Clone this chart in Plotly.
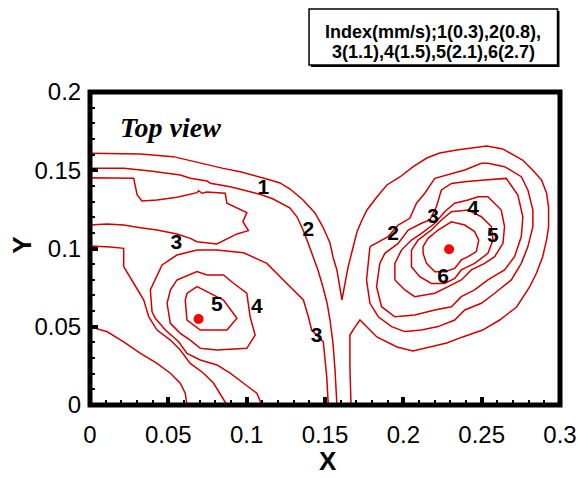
import plotly.graph_objects as go

# ---- contour lines (data units: x, y in the axis scale) ----
# contour "1": from left wall, over the top, down to a cusp, around the right peak, down to the floor
line1_x = [0.0, 0.0322, 0.0532, 0.0704, 0.0850, 0.0959, 0.1067, 0.1150, 0.1213, 0.1277, 0.1360, 0.1436,
           0.1487, 0.1532, 0.1551, 0.1576, 0.1608, 0.1627, 0.1646, 0.1678, 0.1704, 0.1736, 0.1768, 0.1831,
           0.1895, 0.1978, 0.2061, 0.2150, 0.2232, 0.2341, 0.2424, 0.2532, 0.2634, 0.2761, 0.2825, 0.2882,
           0.2914, 0.2927, 0.2927, 0.2914, 0.2889, 0.2850, 0.2806, 0.2723, 0.2615, 0.2506, 0.2379, 0.2277,
           0.2169, 0.2061, 0.1959, 0.1831, 0.1768, 0.1723, 0.1691, 0.1659, 0.1659, 0.1666]
line1_y = [0.1608, 0.1604, 0.1587, 0.1544, 0.1512, 0.1491, 0.1463, 0.1438, 0.1419, 0.1380, 0.1310, 0.1227,
           0.1137, 0.1035, 0.0946, 0.0863, 0.0671, 0.0767, 0.0875, 0.1003, 0.1105, 0.1182, 0.1246, 0.1329,
           0.1406, 0.1457, 0.1521, 0.1578, 0.1610, 0.1629, 0.1642, 0.1655, 0.1636, 0.1565, 0.1502, 0.1438,
           0.1355, 0.1265, 0.1137, 0.1054, 0.0946, 0.0843, 0.0754, 0.0626, 0.0543, 0.0479, 0.0435, 0.0396,
           0.0371, 0.0345, 0.0371, 0.0435, 0.0498, 0.0543, 0.0498, 0.0447, 0.0243, 0.0]

# contour "2" (left part): left wall to the floor
line2_x = [0.0, 0.0215, 0.0385, 0.0576, 0.0640, 0.0748, 0.0768, 0.0895, 0.1022, 0.1099, 0.1169, 0.1277,
           0.1322, 0.1360, 0.1392, 0.1424, 0.1455, 0.1487, 0.1513, 0.1532, 0.1551, 0.1564, 0.1576]
line2_y = [0.1512, 0.1512, 0.1495, 0.1470, 0.1449, 0.1431, 0.1417, 0.1395, 0.1363, 0.1342, 0.1316, 0.1259,
           0.1201, 0.1118, 0.1035, 0.0946, 0.0863, 0.0754, 0.0652, 0.0543, 0.0396, 0.0224, 0.0]

# lobe attached to the left wall
lobe_x = [0.0, 0.0279, 0.0290, 0.0301, 0.0332, 0.0428, 0.0555, 0.0683, 0.0693, 0.0715, 0.0746, 0.0863,
          0.0874, 0.0938, 0.1001, 0.0976, 0.1011, 0.0938, 0.0810, 0.0683, 0.0640, 0.0555, 0.0428, 0.0322,
          0.0215, 0.0110, 0.0]
lobe_y = [0.1452, 0.1449, 0.1395, 0.1342, 0.1304, 0.1310, 0.1327, 0.1357, 0.1369, 0.1353, 0.1361, 0.1353,
          0.1289, 0.1257, 0.1229, 0.1171, 0.1114, 0.1093, 0.1029, 0.1043, 0.1065, 0.1093, 0.1118, 0.1133,
          0.1150, 0.1157, 0.1150]

# two lines from the left wall down to the floor
wall_a_x = [0.0, 0.0131, 0.0215, 0.0215, 0.0279, 0.0343, 0.0375, 0.0428, 0.0513, 0.0576, 0.0640, 0.0725,
            0.0789, 0.0842, 0.0874]
wall_a_y = [0.1016, 0.1010, 0.1001, 0.0884, 0.0778, 0.0671, 0.0564, 0.0479, 0.0415, 0.0351, 0.0266, 0.0203,
            0.0139, 0.0053, 0.0]
wall_b_x = [0.0, 0.0110, 0.0215, 0.0322, 0.0428, 0.0513, 0.0576, 0.0608, 0.0619]
wall_b_y = [0.0500, 0.0468, 0.0404, 0.0330, 0.0266, 0.0203, 0.0139, 0.0075, 0.0]

# contour "3" arch around the left peak (floor to floor)
arch3_x = [0.1097, 0.1065, 0.0980, 0.0895, 0.0810, 0.0704, 0.0619, 0.0566, 0.0481, 0.0417, 0.0396, 0.0385,
           0.0460, 0.0555, 0.0683, 0.0810, 0.0980, 0.1129, 0.1234, 0.1277, 0.1362, 0.1394, 0.1415, 0.1489,
           0.1500, 0.1511, 0.1521]
arch3_y = [0.0, 0.0075, 0.0139, 0.0203, 0.0256, 0.0288, 0.0330, 0.0404, 0.0479, 0.0554, 0.0596, 0.0735,
           0.0895, 0.0958, 0.0990, 0.0990, 0.0973, 0.0905, 0.0799, 0.0756, 0.0671, 0.0564, 0.0479, 0.0404,
           0.0309, 0.0181, 0.0]

# closed loops around the left peak
left4_x = [0.0555, 0.0683, 0.0746, 0.0852, 0.0916, 0.1001, 0.1022, 0.1054, 0.1001, 0.0810, 0.0704, 0.0640,
           0.0576, 0.0513, 0.0492, 0.0513]
left4_y = [0.0799, 0.0852, 0.0831, 0.0831, 0.0778, 0.0714, 0.0564, 0.0447, 0.0362, 0.0351, 0.0362, 0.0415,
           0.0458, 0.0522, 0.0650, 0.0735]
left5_x = [0.0619, 0.0683, 0.0746, 0.0852, 0.0938, 0.0874, 0.0704, 0.0619, 0.0608]
left5_y = [0.0714, 0.0756, 0.0724, 0.0671, 0.0554, 0.0479, 0.0479, 0.0543, 0.0671]

# closed loops around the right peak
right2_x = [0.1787, 0.1861, 0.1903, 0.1967, 0.2041, 0.2084, 0.2137, 0.2201, 0.2307, 0.2392, 0.2498, 0.2540,
            0.2646, 0.2753, 0.2795, 0.2827, 0.2827, 0.2795, 0.2753, 0.2689, 0.2583, 0.2498, 0.2392, 0.2328,
            0.2222, 0.2116, 0.2010, 0.1925, 0.1840, 0.1787, 0.1765, 0.1776]
right2_y = [0.1012, 0.1054, 0.1076, 0.1150, 0.1193, 0.1289, 0.1353, 0.1448, 0.1480, 0.1502, 0.1544, 0.1544,
            0.1523, 0.1459, 0.1374, 0.1246, 0.1140, 0.1012, 0.0905, 0.0799, 0.0714, 0.0650, 0.0607, 0.0543,
            0.0501, 0.0479, 0.0469, 0.0501, 0.0564, 0.0650, 0.0799, 0.0927]
right3_x = [0.1850, 0.1882, 0.1967, 0.2031, 0.2116, 0.2169, 0.2211, 0.2243, 0.2307, 0.2392, 0.2519, 0.2657,
            0.2731, 0.2763, 0.2753, 0.2710, 0.2646, 0.2540, 0.2455, 0.2370, 0.2307, 0.2201, 0.2073, 0.1946,
            0.1861, 0.1829]
right3_y = [0.0905, 0.0969, 0.1033, 0.1118, 0.1161, 0.1182, 0.1267, 0.1374, 0.1416, 0.1427, 0.1438, 0.1448,
            0.1342, 0.1203, 0.1076, 0.0948, 0.0863, 0.0799, 0.0735, 0.0692, 0.0628, 0.0607, 0.0575, 0.0564,
            0.0628, 0.0756]
right4_x = [0.1946, 0.1946, 0.1988, 0.2052, 0.2116, 0.2201, 0.2264, 0.2328, 0.2413, 0.2477, 0.2540, 0.2625,
            0.2646, 0.2636, 0.2583, 0.2519, 0.2434, 0.2370, 0.2286, 0.2201, 0.2073, 0.2010]
right4_y = [0.0799, 0.0905, 0.0990, 0.1054, 0.1097, 0.1161, 0.1235, 0.1289, 0.1310, 0.1331, 0.1331, 0.1246,
            0.1140, 0.1033, 0.0948, 0.0905, 0.0863, 0.0799, 0.0756, 0.0714, 0.0692, 0.0735]
right5_x = [0.2052, 0.2052, 0.2105, 0.2179, 0.2264, 0.2328, 0.2370, 0.2455, 0.2540, 0.2572, 0.2562, 0.2498,
            0.2413, 0.2307, 0.2243, 0.2179, 0.2094]
right5_y = [0.0990, 0.0884, 0.0820, 0.0777, 0.0777, 0.0809, 0.0863, 0.0905, 0.0969, 0.1054, 0.1140, 0.1203,
            0.1246, 0.1235, 0.1182, 0.1118, 0.1054]
right6_x = [0.2126, 0.2158, 0.2222, 0.2307, 0.2392, 0.2455, 0.2481, 0.2466, 0.2413, 0.2370, 0.2328, 0.2264,
            0.2201, 0.2148, 0.2126]
right6_y = [0.1012, 0.1065, 0.1118, 0.1171, 0.1150, 0.1108, 0.1054, 0.0980, 0.0948, 0.0927, 0.0873, 0.0852,
            0.0852, 0.0905, 0.0969]

open_lines = [(line1_x, line1_y), (line2_x, line2_y), (wall_a_x, wall_a_y), (wall_b_x, wall_b_y),
              (arch3_x, arch3_y)]
closed_lines = [(lobe_x, lobe_y), (left4_x, left4_y), (left5_x, left5_y), (right2_x, right2_y),
                (right3_x, right3_y), (right4_x, right4_y), (right5_x, right5_y), (right6_x, right6_y)]

# contour labels
label_text = ["1", "2", "3", "5", "4", "3", "2", "3", "4", "5", "6"]
label_x = [0.1107, 0.1394, 0.0551, 0.0810, 0.1065, 0.1447, 0.1935, 0.2190, 0.2445, 0.2572, 0.2254]
label_y = [0.1385, 0.1114, 0.1029, 0.0633, 0.0624, 0.0436, 0.1086, 0.1199, 0.1246, 0.1075, 0.0810]

# peak markers
peak_x = [0.0693, 0.2292]
peak_y = [0.0550, 0.0995]

x_range = [0, 0.3]
y_range = [0, 0.2]
major_step = 0.05
minor_step = 0.01
legend_lines = ["Index(mm/s);1(0.3),2(0.8),", "3(1.1),4(1.5),5(2.1),6(2.7)"]

LINE_RED = "#d00000"
fig = go.Figure()

for xs, ys in open_lines:
    fig.add_trace(go.Scatter(x=xs, y=ys, mode="lines", line=dict(color=LINE_RED, width=1.5),
                             hoverinfo="skip", showlegend=False))
for xs, ys in closed_lines:
    fig.add_trace(go.Scatter(x=list(xs) + [xs[0]], y=list(ys) + [ys[0]], mode="lines",
                             line=dict(color=LINE_RED, width=1.5), hoverinfo="skip", showlegend=False))

fig.add_trace(go.Scatter(x=peak_x, y=peak_y, mode="markers",
                         marker=dict(color="#ff0000", size=10), showlegend=False, hoverinfo="skip"))
fig.add_trace(go.Scatter(x=label_x, y=label_y, mode="text", text=label_text,
                         textfont=dict(family="Liberation Sans, Arial, sans-serif", size=21,
                                       color="black", weight="bold"),
                         showlegend=False, hoverinfo="skip"))
# invisible traces that carry the tick-mark axes (minor: x2/y2, major: x3/y3)
for ax_x, ax_y in (("x2", "y2"), ("x3", "y3")):
    fig.add_trace(go.Scatter(x=peak_x, y=peak_y, mode="markers", marker=dict(opacity=0),
                             xaxis=ax_x, yaxis=ax_y, showlegend=False, hoverinfo="skip"))

tick_font = dict(family="Liberation Sans, Arial, sans-serif", size=24, color="black")
title_font = dict(family="Liberation Sans, Arial, sans-serif", size=26, color="black", weight="bold")


def tick_axis(rng, step, length, width, side, over):
    return dict(range=rng, overlaying=over, side=side, showgrid=False, zeroline=False, showline=False,
                ticks="inside", ticklen=length, tickwidth=width, tickcolor="black", tickmode="linear",
                tick0=0, dtick=step, showticklabels=False, automargin=False)


fig.update_layout(
    xaxis=dict(range=x_range, showgrid=False, zeroline=False, showline=False,
               ticks="outside", ticklen=8, tickcolor="rgba(0,0,0,0)",
               tickfont=tick_font, tickmode="linear", tick0=0, dtick=major_step, automargin=False),
    yaxis=dict(range=y_range, showgrid=False, zeroline=False, showline=False,
               ticks="outside", ticklen=3, tickcolor="rgba(0,0,0,0)",
               tickfont=tick_font, tickmode="linear", tick0=0, dtick=major_step, automargin=False),
    xaxis2=tick_axis(x_range, minor_step, 5, 1.5, "bottom", "x"),
    yaxis2=tick_axis(y_range, minor_step, 5, 1.5, "left", "y"),
    xaxis3=tick_axis(x_range, major_step, 8, 3.5, "bottom", "x"),
    yaxis3=tick_axis(y_range, major_step, 8, 3.5, "left", "y"),
)

# plot frame
fig.add_shape(type="rect", xref="paper", yref="paper", x0=0, x1=1, y0=0, y1=1,
              line=dict(color="black", width=5), fillcolor="rgba(0,0,0,0)", layer="above")

# axis titles
fig.add_annotation(x=0.5064, y=-0.179, xref="paper", yref="paper", text="<b>X</b>", showarrow=False,
                   xanchor="center", yanchor="middle", font=title_font)
fig.add_annotation(x=-0.1454, y=0.5112, xref="paper", yref="paper", text="<b>Y</b>", showarrow=False,
                   xanchor="center", yanchor="middle", textangle=-90, font=title_font)

# "Top view" caption
fig.add_annotation(x=0.0513, y=0.1776, xref="x", yref="y", text="<b><i>Top view</i></b>",
                   showarrow=False,
                   font=dict(family="Liberation Serif, Times New Roman, serif", size=28, color="black"))

# legend box (with small drop shadow)
fig.add_shape(type="rect", xref="paper", yref="paper", x0=0.4703, x1=0.9989, y0=1.0799, y1=1.2588,
              fillcolor="black", line=dict(width=0), layer="above")
fig.add_shape(type="rect", xref="paper", yref="paper", x0=0.4660, x1=0.9947, y0=1.0863, y1=1.2652,
              fillcolor="white", line=dict(color="black", width=1.5), layer="above")
for txt, yp in zip(legend_lines, [1.1917, 1.1278]):
    fig.add_annotation(x=0.7304, y=yp, xref="paper", yref="paper", text=f"<b>{txt}</b>",
                       showarrow=False, xanchor="center", yanchor="middle",
                       font=dict(family="Liberation Sans, Arial, sans-serif", size=18, color="black"))

fig.update_layout(width=578, height=478, margin=dict(l=90, r=18, t=92, b=73, autoexpand=False),
                  plot_bgcolor="white", paper_bgcolor="white", showlegend=False)

fig.write_html("out.html", config={"displayModeBar": False},
               post_script="document.body.style.margin='0px';")
